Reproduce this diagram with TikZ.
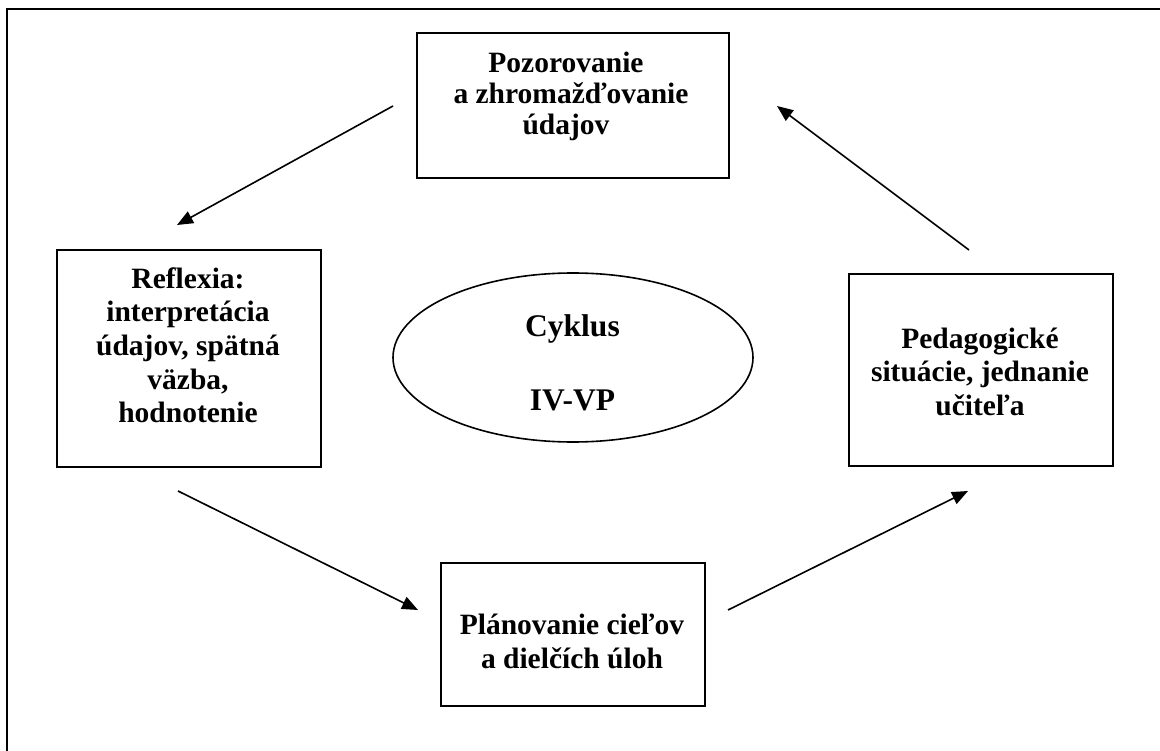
\documentclass[tikz,border=0pt]{standalone}
\usepackage{fontspec}
\setmainfont{Liberation Serif}
\usetikzlibrary{arrows.meta,shapes.geometric}
\begin{document}
\begin{tikzpicture}[x=1pt,y=-1pt,
  box/.style={draw, line width=2pt, rectangle, inner sep=0pt},
  oval/.style={draw, line width=1.6pt, ellipse, inner sep=0pt},
  % multi-line labels are placed by the baseline of their last line
  lbl/.style={font=\bfseries\fontsize{29.5}{33.75}\selectfont, align=center, anchor=base, inner sep=0pt},
  flow/.style={line width=1.6pt, -{Triangle[length=16pt,width=13pt]}}]
\useasboundingbox (0,0) rectangle (1160,751);
\fill[white] (0,0) rectangle (1160,751);
% page frame (only its top and left sides fall inside the page)
\draw[line width=2pt] (7,751) -- (7,9) -- (1160,9);

% the four stages of the cycle
\node[box, minimum width=312, minimum height=145] (obs) at (573,105.5) {};
\node[box, minimum width=264, minimum height=217] (refl) at (189,358.5) {};
\node[box, minimum width=264, minimum height=192] (ped) at (981,370) {};
\node[box, minimum width=264, minimum height=143] (plan) at (573,634.5) {};
\node[oval, minimum width=360, minimum height=169] (cyc) at (573,357.5) {};

\node[lbl, font=\bfseries\fontsize{29.5}{31}\selectfont] (obsT) at (566,135)
  {Pozorovanie\\\hspace*{10pt}a zhromažďovanie\\údajov};
\node[lbl] (reflT) at (188,423)
  {Reflexia:\\interpretácia\\údajov, spätná\\väzba,\\hodnotenie};
\node[lbl, font=\bfseries\fontsize{29.5}{34}\selectfont] (pedT) at (980,416)
  {Pedagogické\\situácie, jednanie\\učiteľa};
\node[lbl, font=\bfseries\fontsize{29.5}{34}\selectfont] (planT) at (572,668)
  {Plánovanie cieľov\\a dielčích úloh};
\node[lbl, font=\bfseries\fontsize{31.5}{36}\selectfont] (cycT1) at (572.5,337) {Cyklus};
\node[lbl, font=\bfseries\fontsize{31.5}{36}\selectfont] (cycT2) at (572.5,410) {IV-VP};

% free ends of the arrows between the stages
\coordinate (a1s) at (393,106);
\coordinate (a1e) at (177,225);
\coordinate (a2s) at (178,491);
\coordinate (a2e) at (418,610);
\coordinate (a3s) at (728,610);
\coordinate (a3e) at (968,491);
\coordinate (a4s) at (969,250);
\coordinate (a4e) at (777,106);

\draw[flow] (a1s) -- (a1e);
\draw[flow] (a2s) -- (a2e);
\draw[flow] (a3s) -- (a3e);
\draw[flow] (a4s) -- (a4e);
\end{tikzpicture}
\end{document}
